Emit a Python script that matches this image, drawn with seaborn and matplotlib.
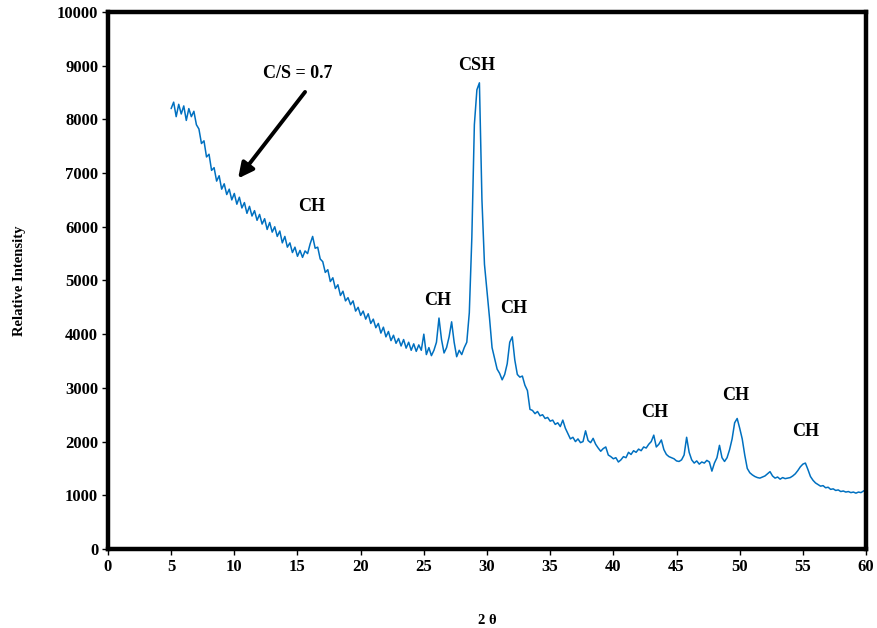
import matplotlib
matplotlib.use('Agg')
import matplotlib.pyplot as plt
import seaborn as sns
import numpy as np
import pandas as pd

# --
# Data (2 theta from 5 to 60, step 0.2)

two_theta = np.round(np.linspace(5.0, 60.0, 276), 1)

intensity = [
    8200, 8320, 8050, 8280, 8100, 8250, 7980, 8200, 8050, 8150,   # 5.0 - 6.8
    7900, 7820, 7550, 7600, 7300, 7350, 7050, 7100, 6850, 6950,   # 7.0 - 8.8
    6700, 6800, 6600, 6700, 6500, 6620, 6420, 6550, 6350, 6450,   # 9.0 - 10.8
    6250, 6380, 6200, 6300, 6120, 6230, 6050, 6150, 5950, 6080,   # 11.0 - 12.8
    5900, 6000, 5820, 5920, 5700, 5820, 5620, 5700, 5520, 5620,   # 13.0 - 14.8
    5450, 5560, 5430, 5550, 5500, 5680, 5820, 5600, 5620, 5400,   # 15.0 - 16.8
    5350, 5150, 5200, 4980, 5050, 4850, 4920, 4720, 4800, 4620,   # 17.0 - 18.8
    4680, 4550, 4620, 4430, 4500, 4350, 4430, 4280, 4380, 4200,   # 19.0 - 20.8
    4280, 4120, 4200, 4020, 4130, 3950, 4050, 3880, 3980, 3830,   # 21.0 - 22.8
    3920, 3780, 3900, 3740, 3850, 3700, 3820, 3680, 3800, 3700,   # 23.0 - 24.8
    4000, 3620, 3750, 3600, 3700, 3850, 4300, 3900, 3650, 3750,   # 25.0 - 26.8
    3950, 4230, 3850, 3580, 3700, 3620, 3750, 3850, 4400, 5800,   # 27.0 - 28.8
    7900, 8550, 8680, 6500, 5300, 4800, 4300, 3750, 3550, 3350,   # 29.0 - 30.8
    3270, 3150, 3250, 3450, 3850, 3950, 3520, 3250, 3200, 3220,   # 31.0 - 32.8
    3050, 2950, 2600, 2580, 2520, 2560, 2480, 2500, 2430, 2450,   # 33.0 - 34.8
    2380, 2400, 2320, 2350, 2280, 2400, 2250, 2150, 2050, 2080,   # 35.0 - 36.8
    2000, 2050, 1980, 2000, 2200, 2020, 1980, 2060, 1950, 1880,   # 37.0 - 38.8
    1820, 1870, 1900, 1750, 1720, 1680, 1700, 1620, 1660, 1720,   # 39.0 - 40.8
    1700, 1800, 1760, 1830, 1800, 1860, 1830, 1900, 1880, 1950,   # 41.0 - 42.8
    2000, 2120, 1900, 1950, 2030, 1850, 1760, 1720, 1700, 1680,   # 43.0 - 44.8
    1640, 1630, 1660, 1750, 2080, 1800, 1660, 1600, 1640, 1580,   # 45.0 - 46.8
    1620, 1600, 1650, 1620, 1450, 1600, 1700, 1930, 1700, 1630,   # 47.0 - 48.8
    1700, 1850, 2050, 2350, 2430, 2250, 2050, 1750, 1500, 1420,   # 49.0 - 50.8
    1380, 1350, 1330, 1320, 1340, 1360, 1400, 1440, 1360, 1320,   # 51.0 - 52.8
    1340, 1300, 1330, 1310, 1320, 1330, 1360, 1400, 1460, 1530,   # 53.0 - 54.8
    1580, 1600, 1480, 1350, 1280, 1230, 1200, 1170, 1180, 1140,   # 55.0 - 56.8
    1150, 1110, 1120, 1090, 1100, 1070, 1080, 1060, 1070, 1050,   # 57.0 - 58.8
    1060, 1040, 1060, 1050, 1080, 1100,                           # 59.0 - 60.0
]

peak_labels = ['CSH', 'CH', 'CH', 'CH', 'CH', 'CH', 'CH']
peak_x = [29.2, 16.1, 26.1, 32.1, 43.3, 49.7, 55.2]
peak_y = [9000, 6380, 4620, 4470, 2550, 2850, 2180]

df = pd.DataFrame({'two_theta': two_theta, 'intensity': intensity})

# --
# Plot

sns.set_style('white')
plt.rcParams['font.family'] = ['Liberation Serif', 'DejaVu Serif']
plt.rcParams['font.weight'] = 'bold'
plt.rcParams['text.color'] = 'black'
plt.rcParams['axes.labelcolor'] = 'black'
plt.rcParams['xtick.color'] = 'black'
plt.rcParams['ytick.color'] = 'black'

fig = plt.figure(figsize=(8.77, 6.28), dpi=100)
ax = fig.add_axes([0.1231, 0.1258, 0.8644, 0.8552])

sns.lineplot(data=df, x='two_theta', y='intensity', ax=ax,
             color='#0070C0', linewidth=1.1)

ax.set_xlim(0, 60)
ax.set_ylim(0, 10000)
ax.set_xticks(np.arange(0, 61, 5))
ax.set_yticks(np.arange(0, 10001, 1000))
ax.tick_params(direction='out', length=4, width=1, color='black',
               labelcolor='black', labelsize=12, pad=3, bottom=True, left=True)
for lab in ax.get_xticklabels() + ax.get_yticklabels():
    lab.set_fontweight('bold')

for s in ax.spines.values():
    s.set_linewidth(3.2)
    s.set_color('black')

ax.set_xlabel('2 θ', fontsize=10.5, fontweight='bold', labelpad=28)
ax.set_ylabel('Relative Intensity', fontsize=10.5, fontweight='bold', labelpad=22)

for lab, px, py in zip(peak_labels, peak_x, peak_y):
    ax.text(px, py, lab, ha='center', va='center', fontsize=13, fontweight='bold')

ax.text(15.0, 8850, 'C/S = 0.7', ha='center', va='center', fontsize=13, fontweight='bold')
ax.annotate('', xy=(10.3, 6900), xytext=(15.6, 8510),
            arrowprops=dict(arrowstyle='-|>,head_width=0.45,head_length=0.9',
                            color='black', lw=2.8, shrinkA=0, shrinkB=0))

fig.savefig('out.png', dpi=100)
